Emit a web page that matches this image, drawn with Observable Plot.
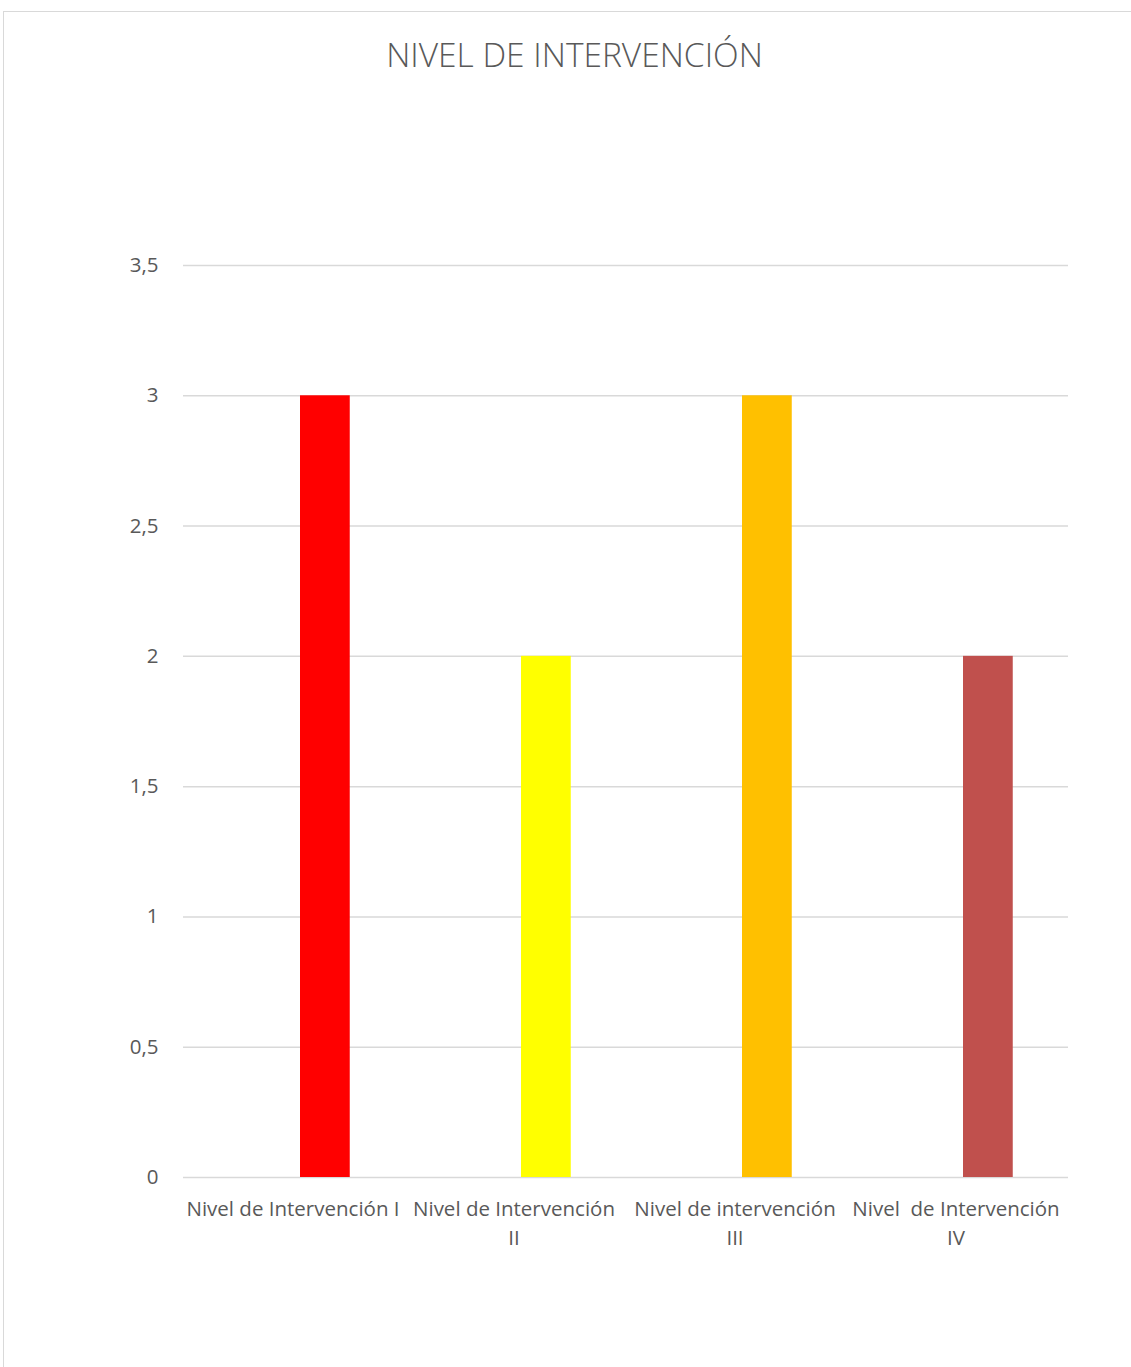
<!DOCTYPE html>
<html>
<head>
<meta charset="utf-8">
<script src="https://cdn.jsdelivr.net/npm/d3@7"></script>
<script src="https://cdn.jsdelivr.net/npm/@observablehq/plot@0.6"></script>
<style>
  html, body { margin: 0; padding: 0; background: #fff; }
  #frame { position: absolute; left: 3px; top: 11px; width: 1143px; height: 1400px;
           border-top: 1.5px solid #d9d9d9; border-left: 1.5px solid #d9d9d9; box-sizing: border-box; }
  #wrap { position: absolute; left: 0; top: 0; width: 1131px; }
  #title { height: 100px; line-height: 108px; text-align: center; padding-left: 18px;
           font-family: "Open Sans", sans-serif; font-weight: 300; font-size: 33.5px; color: #595959; }
  svg { display: block; }
</style>
</head>
<body>
<div id="frame"></div>
<div id="wrap">
  <div id="title">NIVEL DE INTERVENCIÓN</div>
  <div id="chart"></div>
</div>
<script>
const categories = ["Nivel de Intervención I", "Nivel de Intervención\nII", "Nivel de intervención\nIII", "Nivel  de Intervención\nIV"];
const values = [3, 2, 3, 2];
const colors = ["#ff0000", "#ffff00", "#ffc000", "#c0504d"];
const yTicks = [0, 0.5, 1, 1.5, 2, 2.5, 3, 3.5];

const data = categories.map((c, i) => ({category: c, value: values[i], color: colors[i]}));
const fmt = v => String(v).replace(".", ",");

const chart = Plot.plot({
  width: 1131,
  height: 1200,
  marginLeft: 183,
  marginRight: 63,
  marginTop: 165,
  marginBottom: 123,
  style: {fontFamily: "Open Sans, sans-serif", color: "#595959", background: "transparent"},
  x: {domain: categories, padding: 0},
  y: {domain: [0, 3.5]},
  marks: [
    Plot.gridY(yTicks, {stroke: "#d9d9d9", strokeOpacity: 1, strokeWidth: 1.5}),
    Plot.barY(data, {x: "category", y: "value", fill: "color", insetLeft: 116, insetRight: 55.25}),
    Plot.axisY(yTicks, {tickSize: 0, tickPadding: 25, tickFormat: fmt, fontSize: 20.5, fill: "#595959", label: null}),
    Plot.axisX({tickSize: 0, tickPadding: 18, fontSize: 20.5, lineHeight: 1.4, fill: "#595959", label: null, dx: -2})
  ]
});
document.getElementById("chart").appendChild(chart);
</script>
</body>
</html>
